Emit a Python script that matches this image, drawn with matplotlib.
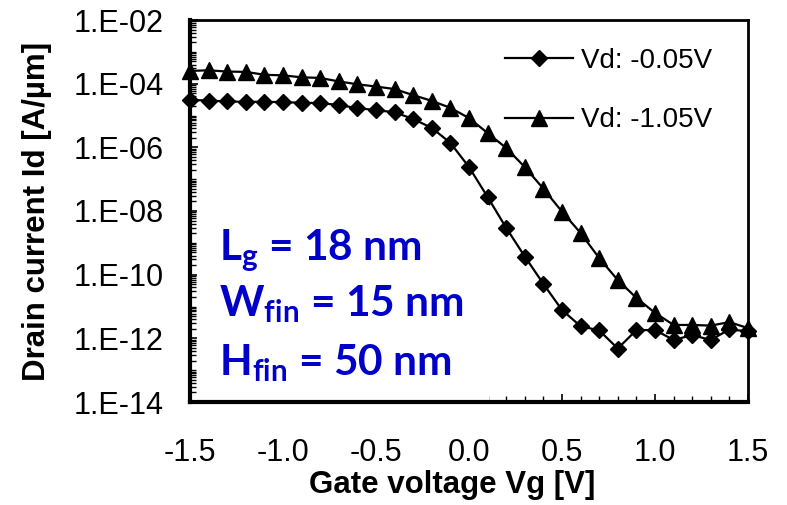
import numpy as np
import matplotlib
matplotlib.use("Agg")
import matplotlib.pyplot as plt
from matplotlib.ticker import FixedLocator, LogLocator, MultipleLocator, NullFormatter
from matplotlib.patches import Rectangle

plt.rcParams['font.family'] = ['Liberation Sans', 'DejaVu Sans']
plt.rcParams['mathtext.fontset'] = 'custom'
plt.rcParams['mathtext.rm'] = 'Lato:bold'
plt.rcParams['mathtext.bf'] = 'Lato:bold'
plt.rcParams['mathtext.it'] = 'Lato:bold'

# Gate voltage sweep (V)
vg = [-1.5, -1.4, -1.3, -1.2, -1.1, -1.0, -0.9, -0.8, -0.7, -0.6, -0.5,
      -0.4, -0.3, -0.2, -0.1, 0.0, 0.1, 0.2, 0.3, 0.4, 0.5,
      0.6, 0.7, 0.8, 0.9, 1.0, 1.1, 1.2, 1.3, 1.4, 1.5]

# log10 of drain current (A/um), Vd = -0.05 V
log_id_lin = [-4.51, -4.53, -4.56, -4.57, -4.57, -4.58, -4.60, -4.61, -4.67, -4.77, -4.83,
              -4.90, -5.11, -5.39, -5.86, -6.62, -7.56, -8.53, -9.43, -10.29, -11.11,
              -11.62, -11.75, -12.32, -11.74, -11.74, -12.05, -11.90, -12.05, -11.72, -11.78]

# log10 of drain current (A/um), Vd = -1.05 V
log_id_sat = [-3.60, -3.58, -3.62, -3.63, -3.72, -3.74, -3.80, -3.82, -3.93, -4.02, -4.09,
              -4.17, -4.36, -4.54, -4.76, -5.08, -5.55, -6.02, -6.62, -7.30, -8.02,
              -8.69, -9.48, -10.17, -10.73, -11.20, -11.58, -11.58, -11.60, -11.49, -11.68]

series_labels = ["Vd: -0.05V", "Vd: -1.05V"]

xtick_values = [-1.5, -1.0, -0.5, 0.0, 0.5, 1.0, 1.5]
xtick_labels = ["-1.5", "-1.0", "-0.5", "0.0", "0.5", "1.0", "1.5"]
ytick_values = [1e-14, 1e-12, 1e-10, 1e-8, 1e-6, 1e-4, 1e-2]
ytick_labels = ["1.E-14", "1.E-12", "1.E-10", "1.E-08", "1.E-06", "1.E-04", "1.E-02"]

device_lines = [r"L$_{\mathbf{g}}$ = 18 nm",
                r"W$_{\mathbf{fin}}$ = 15 nm",
                r"H$_{\mathbf{fin}}$ = 50 nm"]

W, H = 787, 505
fig = plt.figure(figsize=(W / 100, H / 100), dpi=100)
ax = fig.add_axes([190 / W, 1 - 402 / H, 558 / W, 382 / H])

vg_arr = np.array(vg)
id_lin = 10.0 ** np.array(log_id_lin)
id_sat = 10.0 ** np.array(log_id_sat)

ax.plot(vg_arr, id_lin, color='black', lw=1.6, marker='D', ms=8.5,
        label=series_labels[0], zorder=2, clip_on=False)
ax.plot(vg_arr, id_sat, color='black', lw=1.6, marker='^', ms=11.5,
        label=series_labels[1], zorder=2, clip_on=False)

ax.set_yscale('log')
ax.set_xlim(-1.5, 1.5)
ax.set_ylim(1e-14, 1e-2)

ax.xaxis.set_major_locator(FixedLocator(xtick_values))
ax.set_xticklabels(xtick_labels)
ax.xaxis.set_minor_locator(MultipleLocator(0.1))
ax.yaxis.set_major_locator(FixedLocator(ytick_values))
ax.set_yticklabels(ytick_labels)
ax.yaxis.set_minor_locator(LogLocator(base=10, subs=np.arange(1, 10), numticks=100))
ax.yaxis.set_minor_formatter(NullFormatter())

ax.tick_params(axis='both', which='major', direction='in', length=6, width=1.2,
               labelsize=22, colors='black')
ax.tick_params(axis='x', which='major', pad=26)
ax.tick_params(axis='y', which='major', pad=19)
ax.tick_params(axis='both', which='minor', direction='in', length=4, width=1.0)
ax.tick_params(top=False, right=False, which='both')

for name, lw in [('left', 3.0), ('bottom', 3.0), ('right', 2.0), ('top', 2.0)]:
    ax.spines[name].set_linewidth(lw)
    ax.spines[name].set_zorder(2.5)

# blank panel behind the device dimensions
ax.add_patch(Rectangle((0.012, 0.0), 0.524, 0.516, transform=ax.transAxes,
                       facecolor='white', edgecolor='none', zorder=2.2))

leg = ax.legend(loc='upper left', bbox_to_anchor=(505 / W, 1 - 48 / H),
                bbox_transform=fig.transFigure, frameon=False, fontsize=20,
                handlelength=2.45, handletextpad=0.3, labelspacing=1.2,
                borderpad=0, borderaxespad=0)

fig.text(37 / W, 0.5 * (1 - 20 / H + 1 - 402 / H), "Drain current Id [A/\u00b5m]",
         rotation=90, ha='center', va='center', fontsize=22.5, fontweight='bold')
fig.text(452 / W, 1 - 485 / H, "Gate voltage Vg [V]", ha='center', va='center',
         fontsize=22.5, fontweight='bold')

baselines = [260, 316, 375]
for txt, yb in zip(device_lines, baselines):
    fig.text(219 / W, 1 - yb / H, txt, ha='left', va='baseline', fontsize=30.5,
             fontweight='bold', family='Lato', color='#0000C8', zorder=5)

fig.savefig("out.png", dpi=100)
